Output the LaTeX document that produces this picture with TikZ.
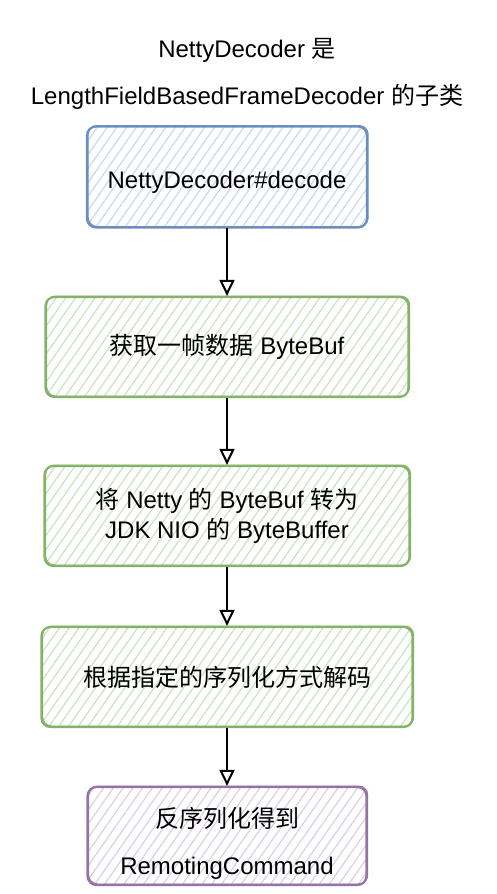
\documentclass[tikz,border=0pt]{standalone}
\usepackage{fontspec}
\setmainfont{Liberation Sans}
\newfontfamily\cjk{Noto Sans CJK SC}
\usetikzlibrary{arrows.meta,patterns.meta}

\definecolor{blueline}{HTML}{6C8EBF}
\definecolor{bluehatch}{HTML}{C6D8F5}
\definecolor{greenline}{HTML}{82B366}
\definecolor{greenhatch}{HTML}{CAE2C2}
\definecolor{purpleline}{HTML}{9673A6}
\definecolor{purplehatch}{HTML}{DCCEE6}

\newcommand{\zh}[1]{{\cjk #1}}

\tikzset{
  sketch/.style={draw=#1line, line width=2.2pt, rounded corners=9pt,
    pattern={Lines[angle=55,distance=8pt,line width=1.2pt]}, pattern color=#1hatch,
    postaction={draw=#1line, line width=1pt, transform canvas={xshift=1.2pt, yshift=1pt}},
    align=center, inner sep=0pt, font=\fontsize{24}{30}\selectfont},
  flow/.style={-{Triangle[open,width=15pt,length=16pt,line width=2pt]}, line width=2.2pt},
}

\begin{document}
\begin{tikzpicture}[x=1pt, y=-1pt]

    \useasboundingbox (0,0) rectangle (496,894);

    % heading
    \node[align=center, font=\fontsize{24}{47}\selectfont] (title) at (247,74)
        {NettyDecoder \zh{是}\\LengthFieldBasedFrameDecoder \zh{的子类}};

    % steps
    \node[sketch=blue, minimum width=280pt, minimum height=101pt] (decode) at (227,177) {};
    \node[font=\fontsize{24}{30}\selectfont] (decodelabel) at (227,182) {NettyDecoder\#decode};
    \node[sketch=green, minimum width=363pt, minimum height=100pt] (fetch) at (227,347) {\zh{获取一帧数据} ByteBuf};
    \node[sketch=green, minimum width=365pt, minimum height=100pt] (convert) at (227,516)
        {\zh{将} Netty \zh{的} ByteBuf \zh{转为}\\JDK NIO \zh{的} ByteBuffer};
    \node[sketch=green, minimum width=371pt, minimum height=100pt] (deser) at (227,677) {\zh{根据指定的序列化方式解码}};
    \node[sketch=purple, minimum width=279pt, minimum height=98pt] (result) at (227,836) {};
    \node[align=center, font=\fontsize{24}{47}\selectfont] (resultlabel) at (227,843)
        {\zh{反序列化得到}\\RemotingCommand};

    % arrows
    \draw[flow] (decode) -- (fetch);
    \draw[flow] (fetch) -- (convert);
    \draw[flow] (convert) -- (deser);
    \draw[flow] (deser) -- (result);

\end{tikzpicture}
\end{document}
